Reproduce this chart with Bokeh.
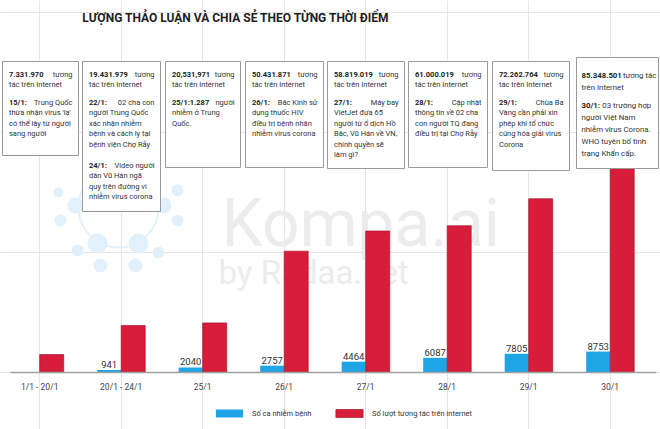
from bokeh.plotting import figure
from bokeh.models import Range1d, LinearAxis, FixedTicker, ColumnDataSource, Legend, LegendItem
from bokeh.core.properties import value
from bokeh.embed import file_html
from bokeh.resources import INLINE

# ---------------- data ----------------
title = "LƯỢNG THẢO LUẬN VÀ CHIA SẺ THEO TỪNG THỜI ĐIỂM"
categories = ["1/1 - 20/1", "20/1 - 24/1", "25/1", "26/1", "27/1", "28/1", "29/1", "30/1"]
cases = [0, 941, 2040, 2757, 4464, 6087, 7805, 8753]
interactions = [7331970, 19431979, 20531971, 50431871, 58819019, 61000019, 72262764, 85348501]
interaction_labels = ["7.331.970", "19.431.979", "20,531,971", "50.431.871",
                      "58.819.019", "61.000.019", "72.262.764", "85.348.501"]
series_names = ["Số ca nhiễm bệnh", "Số lượt tương tác trên internet"]
tail_first = ["tương"] * 7 + ["tương tác"]
tail_second = ["tác trên Internet"] * 7 + ["trên Internet"]
events = [
    [("15/1:", "Trung Quốc", ["thừa nhận virus 'lạ'", "có thể lây từ người", "sang người"])],
    [("22/1:", "02 cha con", ["người Trung Quốc", "xác nhận nhiễm", "bệnh và cách ly tại", "bệnh viện Chợ Rẫy"]),
     ("24/1:", "Video người", ["dân Vũ Hán ngã", "quy trên đường vì", "nhiễm virus corona"])],
    [("25/1:1.287", "người", ["nhiễm ở Trung", "Quốc."])],
    [("26/1:", "Bắc Kinh sử", ["dụng thuốc HIV", "điều trị bệnh nhân", "nhiễm virus corona"])],
    [("27/1:", "Máy bay", ["VietJet đưa 65", "người từ ổ dịch Hồ", "Bắc, Vũ Hán về VN,", "chính quyền sẽ", "làm gì?"])],
    [("28/1:", "Cập nhật", ["thông tin về 02 cha", "con người TQ đang", "điều trị tại Chợ Rẫy"])],
    [("29/1:", "Chùa Ba", ["Vàng cần phải xin", "phép khi tổ chức", "cúng hóa giải virus", "Corona"])],
    [("30/1:", "03 trường hợp", ["người Việt Nam", "nhiễm virus Corona.", "WHO tuyên bố tình", "trạng Khẩn cấp."])],
]
watermark = ["Kompa.ai", "by Radaa.net"]

# ---------------- layout / style ----------------
W, H = 660, 429
X0, XS = 39.2, 81.5      # px of category 0, px per category
BASE, YS = 371.7, 2.40   # baseline px from top, px per million interactions
CS = 0.00236             # px per case
BLUE = "#1ea5e6"
RED = "#d81d3b"
FONT = value("Roboto")


def dx(rx):
    return (rx - X0) / XS


def dy(ry):
    return (BASE - ry) / YS


p = figure(width=W, height=H,
           x_range=Range1d(-X0 / XS, (W - X0) / XS),
           y_range=Range1d((BASE - H) / YS, BASE / YS),
           x_axis_location=None, y_axis_location=None,
           output_backend="svg", toolbar_location=None, min_border=0,
           outline_line_color=None, background_fill_color="white",
           border_fill_color="white")
p.extra_y_ranges = {"cases": Range1d((BASE - H) / CS, BASE / CS)}

# watermark
p.text(x=[dx(221)], y=[dy(223)], text=[watermark[0]], text_font=FONT,
       text_font_size="66px", text_color="#ececec", text_baseline="alphabetic")
p.text(x=[dx(218)], y=[dy(272)], text=[watermark[1]], text_font=FONT,
       text_font_size="33px", text_color="#ececec", text_baseline="alphabetic")
logo_nodes = [(58, 192, 10), (60, 220, 12), (75, 205, 16), (97, 243, 20), (77, 250, 12),
              (100, 265, 14), (138, 243, 20), (158, 252, 12), (135, 265, 14),
              (163, 205, 16), (177, 220, 12), (177, 190, 12)]
p.scatter(x=[dx(118)], y=[dy(207)], size=80, fill_color=None,
          line_color="#e5f2fa", line_width=2)
p.scatter(x=[dx(a) for a, b, s in logo_nodes], y=[dy(b) for a, b, s in logo_nodes],
          size=[s for a, b, s in logo_nodes], fill_color="#e1f0fa", line_color=None)

# bars
bw = 24 / XS
idx = list(range(len(categories)))
src = ColumnDataSource(dict(
    xb=[i - bw / 2 for i in idx],
    xr=[i + bw / 2 for i in idx],
    cases=cases,
    inter=[v / 1e6 for v in interactions],
    lab=[str(c) if c else "" for c in cases],
))
blue_r = p.vbar(x="xb", top="cases", bottom=0, width=bw, source=src,
                y_range_name="cases", fill_color=BLUE, line_color=None)
red_r = p.vbar(x="xr", top="inter", bottom=0, width=bw, source=src,
               fill_color=RED, line_color="#a3162d", line_width=0.7)
p.text(x="xb", y="cases", text="lab", source=src, y_range_name="cases",
       text_align="center", text_baseline="bottom", y_offset=-2,
       text_font=FONT, text_font_size="9.5px", text_color="#333333")

# category axis at the baseline
ax = LinearAxis(fixed_location=0, ticker=FixedTicker(ticks=idx),
                major_label_overrides={i: c for i, c in enumerate(categories)},
                bounds=(dx(10), dx(656)))
ax.axis_line_color = "#a0a0a0"
ax.axis_line_width = 1.5
ax.major_tick_line_color = None
ax.minor_tick_line_color = None
ax.major_tick_out = 0
ax.major_tick_in = 0
ax.major_label_standoff = 10
ax.major_label_text_font = "Roboto"
ax.major_label_text_font_size = "8.5px"
ax.major_label_text_color = "#444444"
p.add_layout(ax, "below")

# annotation boxes
box_rects = [(2, 78, 61, 155), (82, 160, 61, 211), (165, 240, 61, 167), (245, 323, 61, 167),
             (327, 404, 61, 168), (408, 487, 61, 167), (492, 569, 61, 170), (576, 658, 57, 168)]
p.quad(left=[dx(l) for l, r, t, b in box_rects], right=[dx(r) for l, r, t, b in box_rects],
       top=[dy(t) for l, r, t, b in box_rects], bottom=[dy(b) for l, r, t, b in box_rects],
       fill_color="white", line_color="#9a9a9a", line_width=1)


def bold_width(s, fs):
    w = {".": .27, ",": .21, "/": .41, ":": .25}
    return sum(w.get(ch, .562) for ch in s) * fs


bl = dict(x=[], y=[], t=[], fs=[])
rl = dict(x=[], y=[], t=[], fs=[], off=[])
rr = dict(x=[], y=[], t=[], fs=[])


def add_rl(x, y, t, fs, off=0):
    rl["x"].append(x); rl["y"].append(y); rl["t"].append(t); rl["fs"].append(fs); rl["off"].append(off)


for b, (l, r, t, bt) in enumerate(box_rects):
    last = b == len(box_rects) - 1
    fs = 7.8 if last else 7.5
    step = 12.0 if last else 10.4
    y1, y2 = (74.5, 86.5) if last else (74.0, 84.4)
    xl, xr = (l + 5, r - 2) if last else (l + 6.5, r - 6)
    fss = f"{fs}px"
    bl["x"].append(dx(xl)); bl["y"].append(dy(y1)); bl["t"].append(interaction_labels[b]); bl["fs"].append(fss)
    if last:
        add_rl(dx(xl), dy(y1), tail_first[b], fss, bold_width(interaction_labels[b], fs) + 2.2)
    else:
        rr["x"].append(dx(xr)); rr["y"].append(dy(y1)); rr["t"].append(tail_first[b]); rr["fs"].append(fss)
    add_rl(dx(xl), dy(y2), tail_second[b], fss)
    yy = 105.0 if last else 102.0
    for head, rest, lines in events[b]:
        bl["x"].append(dx(xl)); bl["y"].append(dy(yy)); bl["t"].append(head); bl["fs"].append(fss)
        if last:
            add_rl(dx(xl), dy(yy), rest, fss, bold_width(head, fs) + 2.5)
        else:
            rr["x"].append(dx(xr)); rr["y"].append(dy(yy)); rr["t"].append(rest); rr["fs"].append(fss)
        for ln in lines:
            yy += step
            add_rl(dx(xl), dy(yy), ln, fss)
        yy += step + 11

TXT = "#333333"
p.text(x="x", y="y", text="t", source=ColumnDataSource(bl), text_font=FONT,
       text_font_size={"field": "fs"}, text_font_style="bold", text_color="#222222",
       text_align="left", text_baseline="middle")
p.text(x="x", y="y", text="t", source=ColumnDataSource(rl), text_font=FONT,
       text_font_size={"field": "fs"}, x_offset="off", text_color=TXT,
       text_align="left", text_baseline="middle")
p.text(x="x", y="y", text="t", source=ColumnDataSource(rr), text_font=FONT,
       text_font_size={"field": "fs"}, text_color=TXT,
       text_align="right", text_baseline="middle")

# title
p.text(x=[dx(235.5)], y=[dy(17.5)], text=[title], text_font=FONT, text_font_size="12px",
       text_font_style="bold", text_color="#1e1e1e", text_align="center", text_baseline="middle")

# legend
legend = Legend(items=[LegendItem(label=series_names[0], renderers=[blue_r]),
                       LegendItem(label=series_names[1], renderers=[red_r])],
                location=(212, 11), orientation="horizontal",
                glyph_width=34, glyph_height=10, label_standoff=6, spacing=0,
                label_width=80, label_height=10, padding=0, margin=0,
                border_line_color=None, background_fill_alpha=0,
                label_text_font="Roboto", label_text_font_size="7.5px",
                label_text_color="#333333")
p.add_layout(legend)

open("out.html", "w").write(file_html(p, INLINE))
